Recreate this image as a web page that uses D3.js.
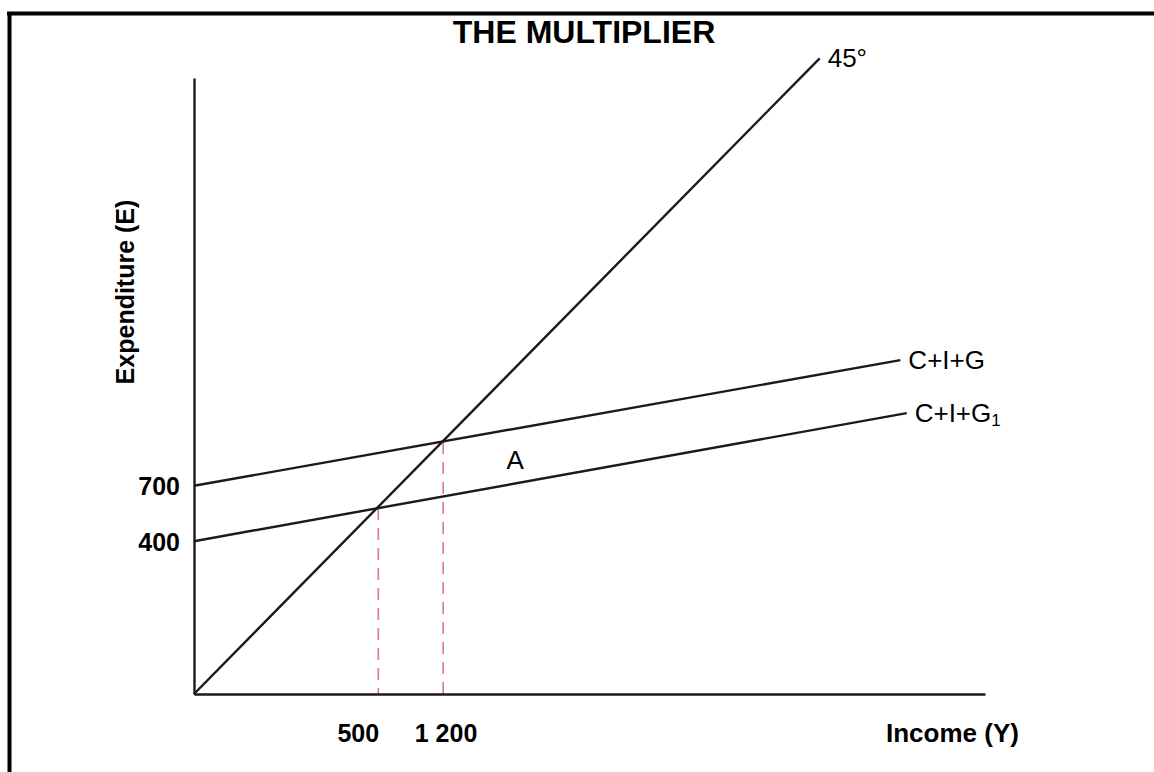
<!DOCTYPE html>
<html lang="en">
<head>
    <meta charset="UTF-8">
    <title>The Multiplier</title>
    <script src="https://cdn.jsdelivr.net/npm/d3@7"></script>
    <style>
        body { margin: 0; background: #fff; }
        text { font-family: "Liberation Sans", Arial, sans-serif; }
    </style>
</head>
<body>
    <svg id="chart" width="1154" height="772"></svg>

    <script>
        // schematic model units (0-100 on each axis)
        const lineNames = ["45°", "C+I+G", "C+I+G1"];
        const lineStartX = [0, 0, 0];
        const lineStartY = [0, 33.8, 24.8];
        const lineEndX = [79.1, 89.3, 90.1];
        const lineEndY = [103.2, 54.2, 45.6];

        // equilibrium points (where the dashed guides drop)
        const eqX = [23.3, 31.5];
        const eqY = [30.2, 40.9];

        const xTickPos = [20.7, 31.8];
        const xTickLabels = ["500", "1 200"];
        const yTickPos = [33.8, 24.8];
        const yTickLabels = ["700", "400"];

        const width = 1154;
        const height = 772;

        const svg = d3.select("#chart");

        const x = d3.scaleLinear().domain([0, 100]).range([194, 985]);
        const y = d3.scaleLinear().domain([0, 100]).range([694, 78]);

        // frame (top and left edge only)
        svg.append("line")
            .attr("x1", 7).attr("y1", 13.5).attr("x2", width).attr("y2", 13.5)
            .attr("stroke", "#000").attr("stroke-width", 4);
        svg.append("line")
            .attr("x1", 9.5).attr("y1", 12).attr("x2", 9.5).attr("y2", height)
            .attr("stroke", "#000").attr("stroke-width", 4);

        svg.append("text")
            .attr("x", 584)
            .attr("y", 43)
            .attr("text-anchor", "middle")
            .attr("font-size", "32px")
            .attr("font-weight", "bold")
            .text("THE MULTIPLIER");

        // dashed guides
        svg.selectAll(".guide")
            .data(eqX)
            .enter().append("line")
            .attr("class", "guide")
            .attr("x1", d => x(d)).attr("x2", d => x(d))
            .attr("y1", (d, i) => y(eqY[i])).attr("y2", y(0))
            .attr("stroke", "#d9788f")
            .attr("stroke-width", 1.6)
            .attr("stroke-dasharray", "12,8");

        // axes
        const xAxis = d3.axisBottom(x)
            .tickValues(xTickPos)
            .tickFormat((d, i) => xTickLabels[i])
            .tickSize(0)
            .tickPadding(30);
        const gx = svg.append("g")
            .attr("transform", `translate(0,${y(0)})`)
            .call(xAxis);

        const yAxis = d3.axisLeft(y)
            .tickValues(yTickPos)
            .tickFormat((d, i) => yTickLabels[i])
            .tickSize(0)
            .tickPadding(14);
        const gy = svg.append("g")
            .attr("transform", `translate(${x(0)},0)`)
            .call(yAxis);

        [gx, gy].forEach(g => {
            g.select(".domain").attr("stroke", "#1a1a1a").attr("stroke-width", 2.4);
            g.selectAll(".tick text")
                .attr("fill", "#000")
                .attr("font-size", "25px")
                .attr("font-weight", "bold")
                .style("font-family", "'Liberation Sans', Arial, sans-serif");
        });
        gx.selectAll(".tick text").attr("dy", "0.71em");
        gy.selectAll(".tick text").attr("dy", "0.36em");

        // expenditure lines
        svg.selectAll(".eline")
            .data(lineNames)
            .enter().append("line")
            .attr("class", "eline")
            .attr("x1", (d, i) => x(lineStartX[i]))
            .attr("y1", (d, i) => y(lineStartY[i]))
            .attr("x2", (d, i) => x(lineEndX[i]))
            .attr("y2", (d, i) => y(lineEndY[i]))
            .attr("stroke", "#1a1a1a")
            .attr("stroke-width", 2.4);

        // end labels
        const labels = svg.selectAll(".elabel")
            .data(lineNames)
            .enter().append("text")
            .attr("class", "elabel")
            .attr("x", (d, i) => x(lineEndX[i]) + 8)
            .attr("y", (d, i) => y(lineEndY[i]) + 9)
            .attr("font-size", "26px")
            .attr("fill", "#000");
        labels.each(function (d) {
            const t = d3.select(this);
            if (d.endsWith("1")) {
                t.text(d.slice(0, -1));
                t.append("tspan").attr("font-size", "17px").attr("dy", 4).text("1");
            } else {
                t.text(d);
            }
        });

        svg.append("text")
            .attr("x", x(40.6))
            .attr("y", y(38) + 9)
            .attr("text-anchor", "middle")
            .attr("font-size", "26px")
            .text("A");

        svg.append("text")
            .attr("x", 886)
            .attr("y", 742)
            .attr("font-size", "26px")
            .attr("font-weight", "bold")
            .text("Income (Y)");

        svg.append("text")
            .attr("transform", "translate(134,292) rotate(-90)")
            .attr("text-anchor", "middle")
            .attr("font-size", "25px")
            .attr("font-weight", "bold")
            .text("Expenditure (E)");
    </script>
</body>
</html>
